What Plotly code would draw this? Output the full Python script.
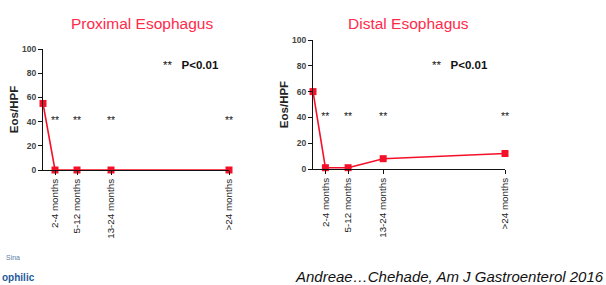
import plotly.graph_objects as go

# Data
x_labels = ["2-4 months", "5-12 months", "13-24 months", ">24 months"]
x_months = [0, 3, 8.5, 17, 46.5]           # baseline + follow-up time points (months)
proximal = [55, 0, 0, 0, 0]
distal = [60, 1, 1, 8, 12]
star_y = [40, 40, 40, 40]
y_ticks = [0, 20, 40, 60, 80, 100]

FONT = "Arial, Liberation Sans, sans-serif"
RED = "#f5102a"
TITLE_RED = "#ff2a4a"
W, H = 606, 285

fig = go.Figure()

for i, (vals, name) in enumerate([(proximal, "Proximal Esophagus"), (distal, "Distal Esophagus")]):
    xa = "x" if i == 0 else "x2"
    ya = "y" if i == 0 else "y2"
    fig.add_trace(go.Scatter(
        x=x_months, y=vals, mode="lines+markers", xaxis=xa, yaxis=ya,
        line=dict(color=RED, width=1.6),
        marker=dict(symbol="square", size=7, color=RED),
        cliponaxis=False, showlegend=False, name=name))
    fig.add_trace(go.Scatter(
        x=x_months[1:], y=star_y, mode="text", text=["**"] * 4, xaxis=xa, yaxis=ya,
        textfont=dict(family=FONT, size=10.5, color="#1a1a1a"),
        cliponaxis=False, showlegend=False, hoverinfo="skip"))

axis_common = dict(showgrid=False, zeroline=False, showline=True, linecolor="#111", linewidth=1,
                   ticks="outside", ticklen=4, tickcolor="#111", automargin=False)
xtick_font = dict(family=FONT, size=9.8, color="#222")
ytick_font = dict(family=FONT, size=8.5, color="#444", weight="bold")
ytitle = dict(text="Eos/HPF", font=dict(family=FONT, size=11.5, color="#222", weight="bold"), standoff=1)

fig.update_layout(
    width=W, height=H, margin=dict(l=0, r=0, t=0, b=0, autoexpand=False),
    paper_bgcolor="white", plot_bgcolor="white",
    xaxis=dict(domain=[43 / W, 229 / W], range=[0, 46.5], anchor="y",
               tickvals=x_months[1:], ticktext=x_labels, tickangle=-90,
               tickfont=xtick_font, **axis_common),
    yaxis=dict(domain=[1 - 170 / H, 1 - 49 / H], range=[0, 100], anchor="x",
               tickvals=y_ticks, tickfont=ytick_font, title=ytitle, **axis_common),
    xaxis2=dict(domain=[313 / W, 505 / W], range=[0, 46.5], anchor="y2",
                tickvals=x_months[1:], ticktext=x_labels, tickangle=-90,
                tickfont=xtick_font, **axis_common),
    yaxis2=dict(domain=[1 - 169 / H, 1 - 40 / H], range=[0, 100], anchor="x2",
                tickvals=y_ticks, tickfont=ytick_font, title=ytitle, **axis_common),
)


def ann(text, x, y, size, color, xanchor="center", **font_kw):
    return dict(text=text, x=x / W, y=1 - y / H, xref="paper", yref="paper",
                xanchor=xanchor, yanchor="middle", showarrow=False,
                font=dict(family=FONT, size=size, color=color, **font_kw))


annotations = [
    ann("Proximal Esophagus", 142, 23, 15.5, TITLE_RED),
    ann("Distal Esophagus", 408, 23, 15.5, TITLE_RED),
    ann("**&nbsp;&nbsp;&nbsp;<b>P&lt;0.01</b>", 191, 65, 11.5, "#111"),
    ann("**&nbsp;&nbsp;&nbsp;<b>P&lt;0.01</b>", 460, 65, 11.5, "#111"),
    ann("<i>Andreae…Chehade, Am J Gastroenterol 2016</i>", 606, 276, 15, "#111", xanchor="right"),
    ann("Sina", 4, 257, 7, "#5a7fa8", xanchor="left"),
    ann("<b>ophilic</b>", 0, 277, 10, "#1f5a9a", xanchor="left"),
]
fig.update_layout(annotations=annotations)

fig.write_html("out.html", config={"displayModeBar": False},
               post_script="document.body.style.margin='0';")
